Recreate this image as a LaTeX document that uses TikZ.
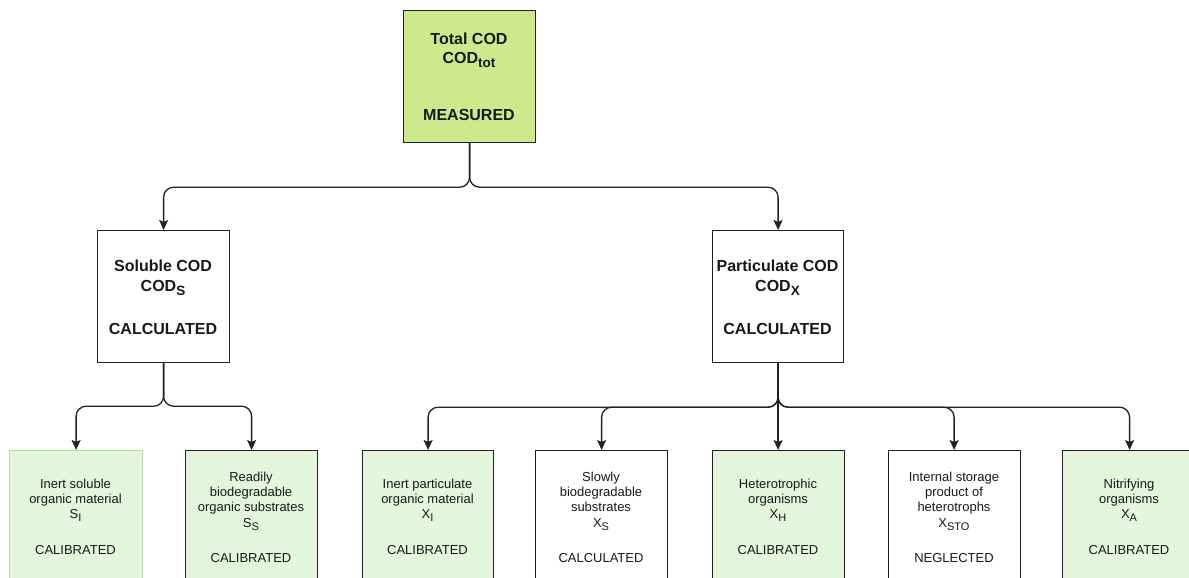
\documentclass[tikz,border=0pt]{standalone}
\usepackage{fontspec}
\setmainfont{Liberation Sans}
\usetikzlibrary{arrows.meta}
\definecolor{topgreen}{HTML}{CDE98C}
\definecolor{lgreen}{HTML}{E3F6DC}
\definecolor{lgborder}{HTML}{B7DBA6}
\definecolor{ink}{HTML}{222222}
\newcommand\subA[1]{\raisebox{-4pt}{\fontsize{13.5}{13.5}\selectfont\bfseries #1}}
\newcommand\subB[1]{\raisebox{-3.5pt}{\fontsize{11}{11}\selectfont #1}}
\begin{document}
\begin{tikzpicture}[x=1pt,y=-1pt,
  box/.style={draw=ink, line width=1.2pt, minimum width=132pt, minimum height=132pt, inner sep=0pt, anchor=north west},
  lowbox/.style={box, minimum height=150pt},
  conn/.style={draw=ink, line width=1.3pt, rounded corners=10pt, -{Stealth[length=10pt,width=9pt,inset=2pt]}},
  hl/.style={anchor=base, inner sep=0pt, font=\fontsize{16}{19}\selectfont\bfseries, text=black!90},
  tl/.style={anchor=base, inner sep=0pt, font=\fontsize{13}{15}\selectfont, text=black!90}]
\useasboundingbox (0,0) rectangle (1189,578);
\clip (0,0) rectangle (1189,578);
\fill[white] (0,0) rectangle (1189,578);

% boxes
\node[box, fill=topgreen, minimum width=132pt] (top) at (403,10) {};
\node[box, fill=white] (sol) at (97,230) {};
\node[box, fill=white, minimum width=131pt] (par) at (712,230) {};
\node[lowbox, fill=lgreen, draw=lgborder, minimum width=133pt] (b1) at (9,450) {};
\node[lowbox, fill=lgreen] (b2) at (185,450) {};
\node[lowbox, fill=lgreen, minimum width=131pt] (b3) at (362,450) {};
\node[lowbox, fill=white] (b4) at (535,450) {};
\node[lowbox, fill=lgreen] (b5) at (712,450) {};
\node[lowbox, fill=white] (b6) at (888,450) {};
\node[lowbox, fill=lgreen, minimum width=134pt] (b7) at (1062,450) {};

% top texts
\node[hl] (t1) at (469,45) {Total COD};
\node[hl] (t2) at (469,64) {COD\subA{tot}};
\node[hl] (t3) at (469,121) {MEASURED};

% second level texts
\node[hl] (s1) at (163,271) {Soluble COD};
\node[hl] (s2) at (163,291) {COD\subA{S}};
\node[hl] (s3) at (163,334) {CALCULATED};
\node[hl] (p1) at (777.5,271) {Particulate COD};
\node[hl] (p2) at (777.5,291) {COD\subA{X}};
\node[hl] (p3) at (777.5,334) {CALCULATED};

% bottom texts
\node[tl] (b1a) at (75.5,488) {Inert soluble};
\node[tl] (b1b) at (75.5,503) {organic material};
\node[tl] (b1c) at (75.5,518) {S\subB{I}};
\node[tl] (b1d) at (75.5,554) {CALIBRATED};

\node[tl] (b2a) at (251,481) {Readily};
\node[tl] (b2b) at (251,496) {biodegradable};
\node[tl] (b2c) at (251,511) {organic substrates};
\node[tl] (b2d) at (251,527) {S\subB{S}};
\node[tl] (b2e) at (251,562) {CALIBRATED};

\node[tl] (b3a) at (427.5,488) {Inert particulate};
\node[tl] (b3b) at (427.5,503) {organic material};
\node[tl] (b3c) at (427.5,518) {X\subB{I}};
\node[tl] (b3d) at (427.5,554) {CALIBRATED};

\node[tl] (b4a) at (601,481) {Slowly};
\node[tl] (b4b) at (601,496) {biodegradable};
\node[tl] (b4c) at (601,511) {substrates};
\node[tl] (b4d) at (601,527) {X\subB{S}};
\node[tl] (b4e) at (601,562) {CALCULATED};

\node[tl] (b5a) at (778,488) {Heterotrophic};
\node[tl] (b5b) at (778,503) {organisms};
\node[tl] (b5c) at (778,518) {X\subB{H}};
\node[tl] (b5d) at (778,554) {CALIBRATED};

\node[tl] (b6a) at (954,481) {Internal storage};
\node[tl] (b6b) at (954,496) {product of};
\node[tl] (b6c) at (954,511) {heterotrophs};
\node[tl] (b6d) at (954,527) {X\subB{STO}};
\node[tl] (b6e) at (954,562) {NEGLECTED};

\node[tl] (b7a) at (1129,488) {Nitrifying};
\node[tl] (b7b) at (1129,503) {organisms};
\node[tl] (b7c) at (1129,518) {X\subB{A}};
\node[tl] (b7d) at (1129,554) {CALIBRATED};

% connectors
\draw[conn] (top.south) -- ++(0,44) -| (sol.north);
\draw[conn] (top.south) -- ++(0,44) -| (par.north);

\draw[conn] (sol.south) -- ++(0,43) -| (b1.north);
\draw[conn] (sol.south) -- ++(0,43) -| (b2.north);

\draw[conn] (par.south) -- ++(0,44) -| (b3.north);
\draw[conn] (par.south) -- ++(0,44) -| (b4.north);
\draw[conn] (par.south) -- (par.south |- b5.north);
\draw[conn] (par.south) -- ++(0,44) -| ([xshift=-0.5pt]b6.north);
\draw[conn] (par.south) -- ++(0,44) -| (b7.north);
\end{tikzpicture}
\end{document}
